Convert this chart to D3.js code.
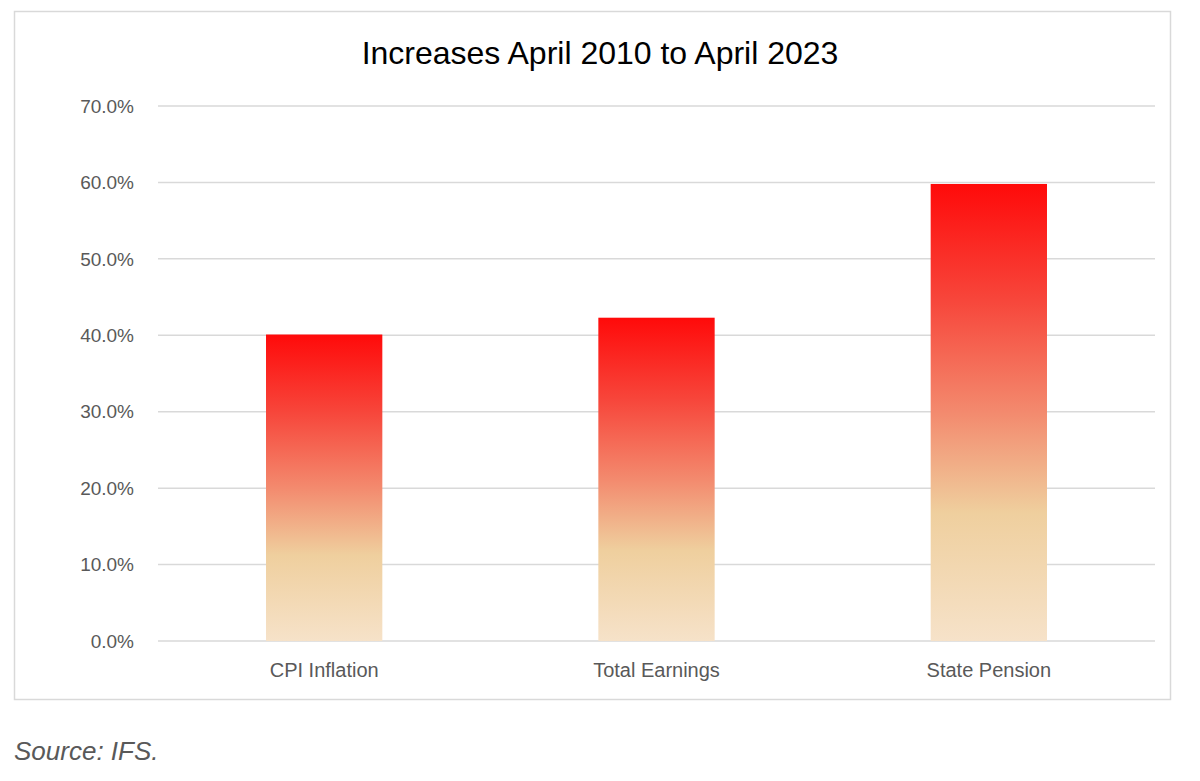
<!DOCTYPE html>
<html><head><meta charset="utf-8">
<script src="https://cdn.jsdelivr.net/npm/d3@7/dist/d3.min.js"></script>
<style>body{margin:0;background:#fff;font-family:Arial,"Liberation Sans",sans-serif;}</style>
</head><body>
<svg id="c" width="1200" height="781"></svg>
<script>
const categories = ["CPI Inflation","Total Earnings","State Pension"];
const values = [40.1, 42.3, 59.8];
const yTicks = [0,10,20,30,40,50,60,70];

const svg = d3.select("#c");
svg.append("rect").attr("x",14.5).attr("y",11.5).attr("width",1156).attr("height",688)
  .attr("fill","#fff").attr("stroke","#d9d9d9").attr("stroke-width",1.5);

const m = {l:158, r:1155, t:106, b:641};
const x = d3.scaleBand().domain(categories).range([m.l,m.r]).paddingInner(0.65).paddingOuter(0.325);
const y = d3.scaleLinear().domain([0,70]).range([m.b,m.t]);

const grad = svg.append("defs").append("linearGradient").attr("id","g")
  .attr("x1",0).attr("y1",0).attr("x2",0).attr("y2",1);
[[0,"#ff0a0a"],[0.25,"#f7453a"],[0.5,"#f38a6e"],[0.72,"#efcf9e"],[1,"#f6e2c9"]]
  .forEach(([o,c])=>grad.append("stop").attr("offset",o).attr("stop-color",c));

svg.append("g").selectAll("line").data(yTicks).join("line")
  .attr("x1",m.l).attr("x2",m.r).attr("y1",d=>y(d)).attr("y2",d=>y(d))
  .attr("stroke","#d9d9d9").attr("stroke-width",1.5);

svg.append("g").selectAll("text").data(yTicks).join("text")
  .attr("x",134).attr("y",d=>y(d)).attr("dy","0.35em").attr("text-anchor","end")
  .attr("font-size",19).attr("fill","#595959").text(d=>d.toFixed(1)+"%");

svg.append("g").selectAll("rect").data(values).join("rect")
  .attr("x",(d,i)=>x(categories[i])).attr("width",x.bandwidth())
  .attr("y",d=>y(d)).attr("height",d=>y(0)-y(d)).attr("fill","url(#g)");

svg.append("g").selectAll("text").data(categories).join("text")
  .attr("x",d=>x(d)+x.bandwidth()/2).attr("y",677).attr("text-anchor","middle")
  .attr("font-size",20).attr("fill","#595959").text(d=>d);

svg.append("text").attr("x",600).attr("y",64).attr("text-anchor","middle")
  .attr("font-size",32).attr("fill","#000").text("Increases April 2010 to April 2023");

svg.append("text").attr("x",14).attr("y",760).attr("font-size",26).attr("font-style","italic")
  .attr("fill","#595959").text("Source: IFS.");
</script>
</body></html>
